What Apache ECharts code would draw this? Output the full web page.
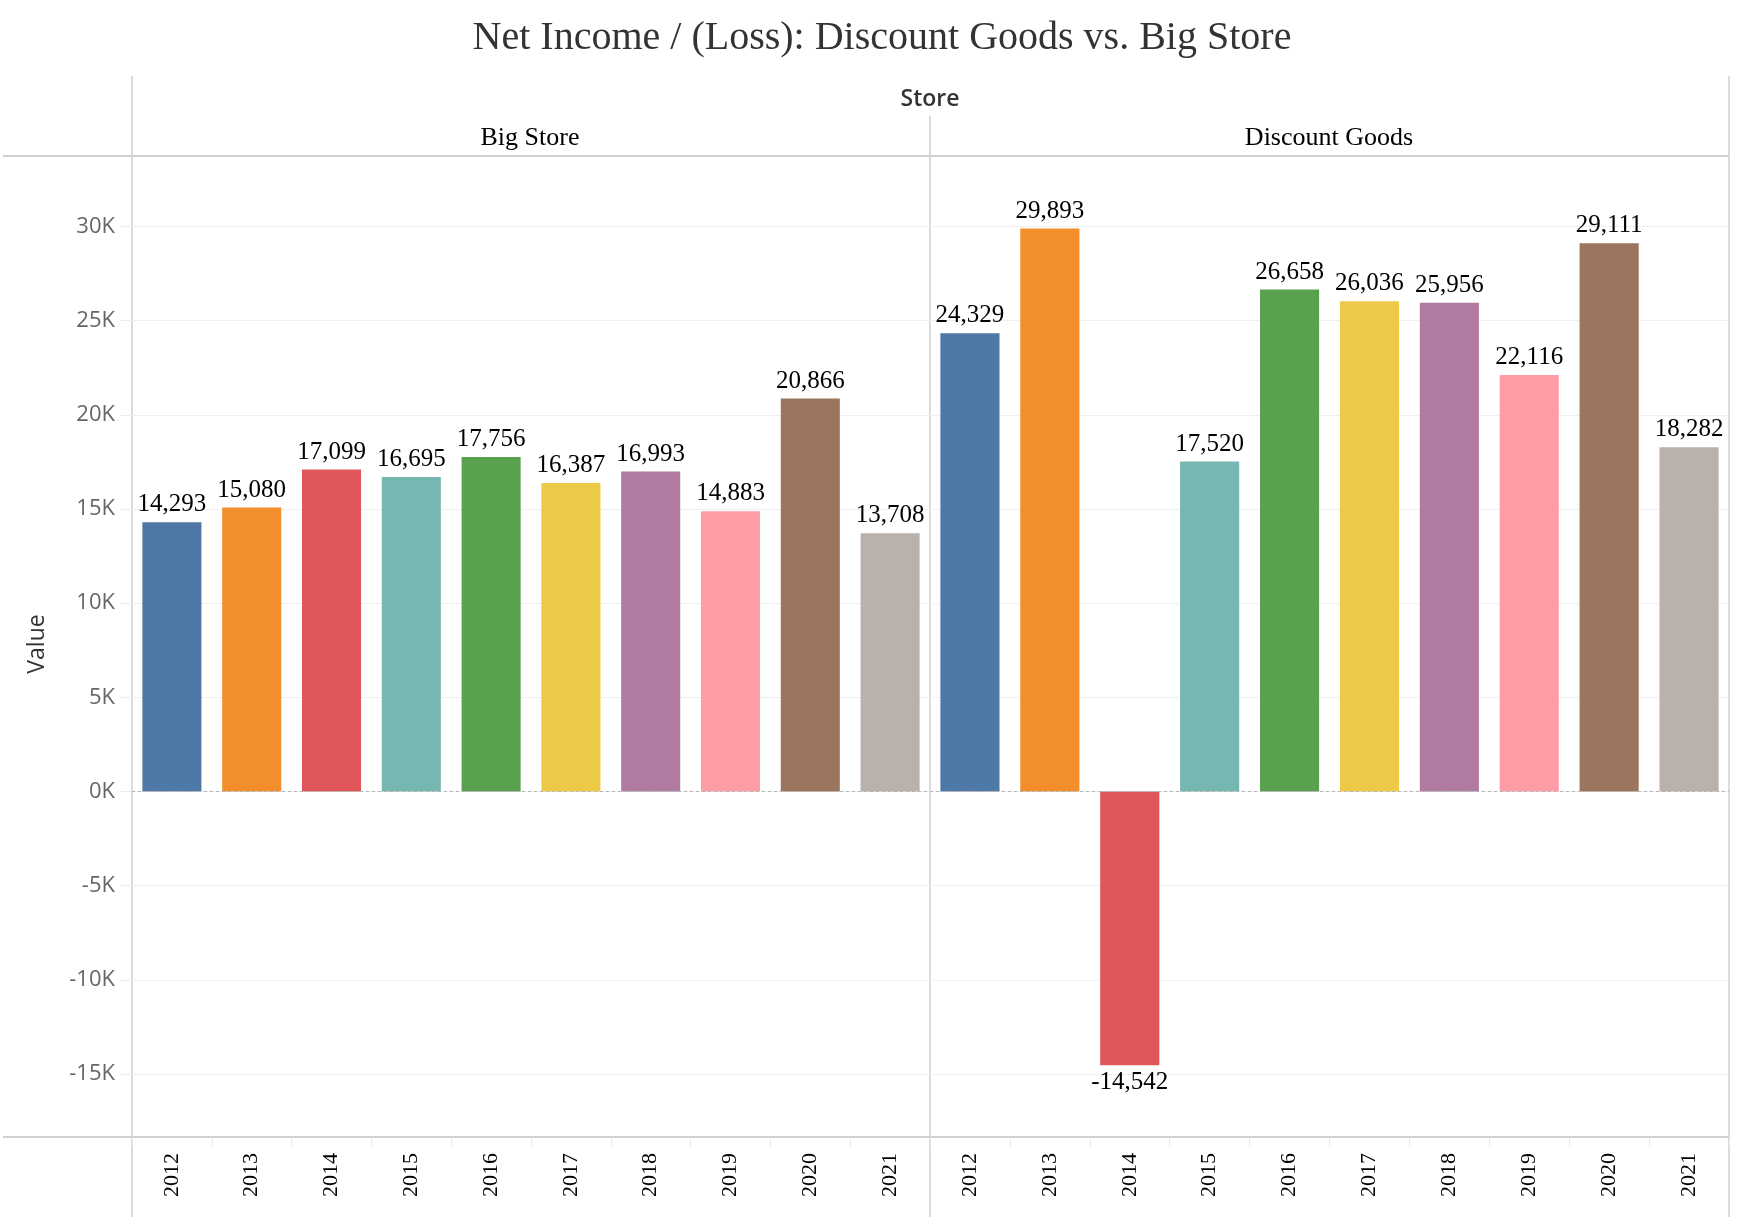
<!DOCTYPE html>
<html>
<head>
<meta charset="utf-8">
<script src="https://cdn.jsdelivr.net/npm/echarts@6/dist/echarts.min.js"></script>
<style>html,body{margin:0;padding:0;background:#fff}#chart{width:1750px;height:1228px}</style>
</head>
<body>
<div id="chart"></div>
<script>
const years = ['2012','2013','2014','2015','2016','2017','2018','2019','2020','2021'];
const bigStore = [14293, 15080, 17099, 16695, 17756, 16387, 16993, 14883, 20866, 13708];
const discountGoods = [24329, 29893, -14542, 17520, 26658, 26036, 25956, 22116, 29111, 18282];
const palette = ['#4e79a7','#f28e2b','#e15759','#76b7b2','#59a14f','#edc948','#b07aa1','#ff9da7','#9c755f','#bab0ac'];
const panels = ['Big Store', 'Discount Goods'];
const yMin = -15000, yMax = 30000, yStep = 5000;

const serif = "'Liberation Serif', 'Times New Roman', serif";
const sans = "'Open Sans', 'Noto Sans', sans-serif";
const fmt = v => String(v).replace(/\B(?=(\d{3})+(?!\d))/g, ',');

const gridTop = 226.5, gridH = 847.5;
const lineCol = '#cfcfcf';

function mkData(arr) {
  return arr.map((v, i) => ({
    value: v,
    itemStyle: { color: palette[i] },
    label: { position: v < 0 ? 'bottom' : 'top' }
  }));
}
function mkSeries(arr, idx) {
  return {
    type: 'bar', xAxisIndex: idx, yAxisIndex: idx,
    barWidth: '74%',
    data: mkData(arr),
    label: { show: true, distance: 5, fontFamily: serif, fontSize: 25, color: '#000', formatter: p => fmt(p.value) },
    markLine: {
      silent: true, symbol: 'none', label: { show: false },
      lineStyle: { color: '#b5b5b5', type: [3, 3], width: 1 },
      data: [{ yAxis: 0 }]
    },
    animation: false
  };
}
function mkX(idx) {
  return {
    type: 'category', gridIndex: idx, data: years, position: 'bottom', offset: 63,
    axisLine: { show: false, onZero: false },
    axisTick: { show: true, length: 10, lineStyle: { color: '#e8e8e8' } },
    axisLabel: { rotate: 90, margin: 16, fontFamily: serif, fontSize: 22, color: '#000' }
  };
}
function mkY(idx) {
  return {
    type: 'value', gridIndex: idx, min: yMin, max: yMax, interval: yStep,
    axisLine: { show: false },
    axisTick: { show: idx === 0, length: 11, lineStyle: { color: '#ececec' } },
    axisLabel: { show: idx === 0, margin: 17, fontFamily: sans, fontSize: 22, color: '#666',
      formatter: v => (v / 1000) + 'K' },
    splitLine: { show: true, lineStyle: { color: '#efefef', width: 1 } }
  };
}

const chart = echarts.init(document.getElementById('chart'), null, { renderer: 'canvas' });
chart.setOption({
  backgroundColor: '#fff',
  animation: false,
  grid: [
    { left: 132, top: gridTop, width: 798, height: gridH },
    { left: 930, top: gridTop, width: 799, height: gridH }
  ],
  xAxis: [mkX(0), mkX(1)],
  yAxis: [mkY(0), mkY(1)],
  series: [mkSeries(bigStore, 0), mkSeries(discountGoods, 1)],
  graphic: [
    { type: 'text', x: 882, y: 38, style: { text: 'Net Income / (Loss): Discount Goods vs. Big Store', font: '40px ' + serif, fill: '#333', textAlign: 'center', textVerticalAlign: 'middle' } },
    { type: 'text', x: 930, y: 99, style: { text: 'Store', font: '600 23px ' + sans, fill: '#333', textAlign: 'center', textVerticalAlign: 'middle' } },
    { type: 'text', x: 530, y: 138, style: { text: panels[0], font: '26px ' + serif, fill: '#000', textAlign: 'center', textVerticalAlign: 'middle' } },
    { type: 'text', x: 1329, y: 138, style: { text: panels[1], font: '26px ' + serif, fill: '#000', textAlign: 'center', textVerticalAlign: 'middle' } },
    { type: 'text', x: 37, y: 644, rotation: Math.PI / 2, style: { text: 'Value', font: '23px ' + sans, fill: '#333', textAlign: 'center', textVerticalAlign: 'middle' } },
    { type: 'line', silent: true, shape: { x1: 132, y1: 76, x2: 132, y2: 1217 }, style: { stroke: lineCol, lineWidth: 1.5 } },
    { type: 'line', silent: true, shape: { x1: 930, y1: 116, x2: 930, y2: 1217 }, style: { stroke: lineCol, lineWidth: 1.5 } },
    { type: 'line', silent: true, shape: { x1: 1729, y1: 76, x2: 1729, y2: 1217 }, style: { stroke: lineCol, lineWidth: 1.5 } },
    { type: 'line', silent: true, shape: { x1: 3, y1: 156, x2: 1729, y2: 156 }, style: { stroke: lineCol, lineWidth: 2 } },
    { type: 'line', silent: true, shape: { x1: 3, y1: 1137, x2: 1729, y2: 1137 }, style: { stroke: lineCol, lineWidth: 2 } }
  ]
});
</script>
</body>
</html>
